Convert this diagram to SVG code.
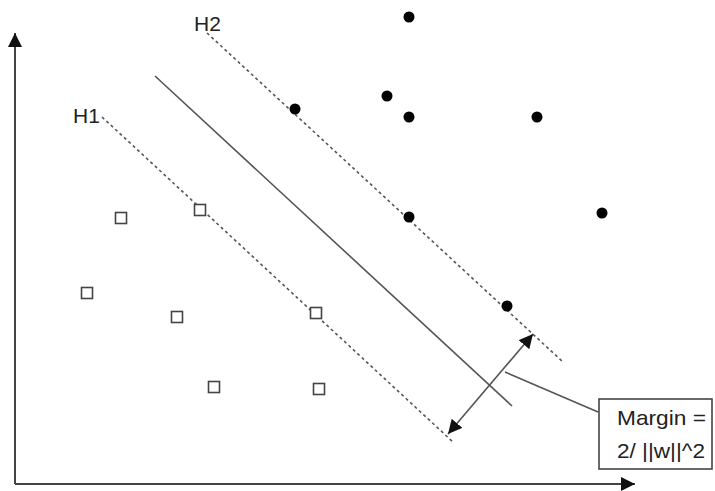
<svg xmlns="http://www.w3.org/2000/svg" width="715" height="491" viewBox="0 0 715 491">
<style>
.axis{stroke:#444;stroke-width:2;fill:none}
.dash{stroke:#555;stroke-width:1.6;stroke-dasharray:3 3;fill:none}
.solid{stroke:#555;stroke-width:1.6;fill:none}
.sq{fill:#fff;stroke:#444;stroke-width:1.6}
.dot{fill:#000}
.lbl{font-family:"Liberation Sans",Arial,sans-serif;font-size:21px;fill:#222}
</style>
<defs>
<marker id="ah2" viewBox="0 0 10 10" refX="10" refY="5" markerWidth="14" markerHeight="14" markerUnits="userSpaceOnUse" orient="auto-start-reverse">
<path d="M0,0 L10,5 L0,10 Z" fill="#111"/>
</marker>
<marker id="ax" viewBox="0 0 10 10" refX="10" refY="5" markerWidth="14" markerHeight="14" markerUnits="userSpaceOnUse" orient="auto">
<path d="M0,0 L10,5 L0,10 Z" fill="#111"/>
</marker>
</defs>
<rect width="715" height="491" fill="#fff"/>
<g id="axes">
<line class="axis" x1="15" y1="484" x2="15" y2="33" marker-end="url(#ax)"/>
<line class="axis" x1="15" y1="484" x2="635" y2="484" marker-end="url(#ax)"/>
</g>
<g id="connectors">
<line id="h1" class="dash" x1="102" y1="117" x2="453" y2="442"/>
<line id="h2" class="dash" x1="207" y1="33" x2="563" y2="362"/>
<line id="hyperplane" class="solid" x1="155" y1="76" x2="512" y2="406"/>
<line id="margin-arrow" class="solid" x1="448" y1="434" x2="533" y2="334" marker-start="url(#ah2)" marker-end="url(#ah2)"/>
<line id="callout" class="solid" x1="505" y1="372" x2="598" y2="412"/>
</g>
<g id="labels">
<text class="lbl" x="73" y="123">H1</text>
<text class="lbl" x="194" y="31">H2</text>
</g>
<g id="class-squares">
<rect class="sq" x="115.5" y="212.5" width="11" height="11"/>
<rect class="sq" x="194.5" y="204.5" width="11" height="11"/>
<rect class="sq" x="81.5" y="287.5" width="11" height="11"/>
<rect class="sq" x="171.5" y="311.5" width="11" height="11"/>
<rect class="sq" x="310.5" y="307.5" width="11" height="11"/>
<rect class="sq" x="208.5" y="381.5" width="11" height="11"/>
<rect class="sq" x="313.5" y="383.5" width="11" height="11"/>
</g>
<g id="class-dots">
<circle class="dot" cx="409" cy="17" r="5.5"/>
<circle class="dot" cx="387" cy="96" r="5.5"/>
<circle class="dot" cx="409" cy="117" r="5.5"/>
<circle class="dot" cx="537" cy="117" r="5.5"/>
<circle class="dot" cx="295" cy="109" r="5.5"/>
<circle class="dot" cx="409" cy="217" r="5.5"/>
<circle class="dot" cx="602" cy="213" r="5.5"/>
<circle class="dot" cx="507" cy="306" r="5.5"/>
</g>
<g id="margin-box">
<rect x="599" y="399" width="113" height="70" fill="#fff" stroke="#444" stroke-width="1.6"/>
<text class="lbl" x="617" y="425" style="font-size:21px" textLength="89" lengthAdjust="spacingAndGlyphs">Margin =</text>
<text class="lbl" x="617" y="458" style="font-size:21px" textLength="88" lengthAdjust="spacingAndGlyphs">2/ ||w||^2</text>
</g>
</svg>
